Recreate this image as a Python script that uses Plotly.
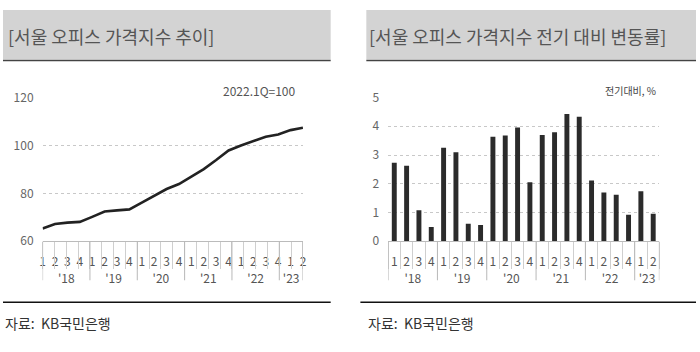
import plotly.graph_objects as go

years = ["'18", "'19", "'20", "'21", "'22", "'23"]
quarters_per_year = [4, 4, 4, 4, 4, 2]
quarters = ["1", "2", "3", "4"] * 5 + ["1", "2"]

price_index = [65.3, 67.2, 67.8, 68.1, 70.2, 72.4, 72.9, 73.3, 76.1, 79.0, 81.8, 83.9,
               86.9, 90.1, 93.9, 97.9, 100.0, 101.9, 103.6, 104.6, 106.4, 107.4]
qoq_change = [2.73, 2.63, 1.08, 0.50, 3.25, 3.10, 0.61, 0.57, 3.64, 3.68, 3.96, 2.05,
              3.70, 3.79, 4.43, 4.33, 2.11, 1.70, 1.62, 0.92, 1.74, 0.96]

title_left = "[서울 오피스 가격지수 추이]"
title_right = "[서울 오피스 가격지수 전기 대비 변동률]"
unit_left = "2022.1Q=100"
unit_right = "전기대비, %"
source = "자료:  KB국민은행"

# category keys (one per quarter) built from the lists above
cats = []
for y, n in zip(years, quarters_per_year):
    for q in range(1, n + 1):
        cats.append(f"{y}Q{q}")

# year boundaries / centres in category index units
bounds = [-0.5]
centres = []
for n in quarters_per_year:
    centres.append(bounds[-1] + n / 2)
    bounds.append(bounds[-1] + n)
qbounds = [i - 0.5 for i in range(len(cats) + 1)]

W, H = 700, 352
def px(x):
    return x / W
def py(y):
    return 1 - y / H

FONT = "Noto Sans CJK KR"
fig = go.Figure()

fig.add_trace(go.Scatter(x=cats, y=price_index, mode="lines",
                         line=dict(color="#222222", width=2.6), xaxis="x", yaxis="y",
                         showlegend=False))
fig.add_trace(go.Bar(x=cats, y=qoq_change, marker=dict(color="#2b2b2b", line_width=0),
                     xaxis="x2", yaxis="y2", showlegend=False))
# invisible carriers so the overlaid year axes are drawn
fig.add_trace(go.Scatter(x=centres, y=[60] * len(centres), mode="markers",
                         marker=dict(opacity=0), hoverinfo="skip", showlegend=False,
                         xaxis="x3", yaxis="y"))
fig.add_trace(go.Scatter(x=centres, y=[0] * len(centres), mode="markers",
                         marker=dict(opacity=0), hoverinfo="skip", showlegend=False,
                         xaxis="x4", yaxis="y2"))

qaxis = dict(type="category", showline=True, linecolor="#bbbbbb", linewidth=1,
             ticks="", tickangle=0, ticklabelstandoff=9,
             tickmode="array", tickvals=cats, ticktext=quarters,
             tickfont=dict(family=FONT, size=12, color="#555555"),
             showgrid=False, fixedrange=True, zeroline=False)
yraxis = dict(type="linear", range=[-0.5, len(cats) - 0.5], showline=False,
              ticks="outside", ticklen=0, tickcolor="rgba(0,0,0,0)",
              tickmode="array", tickvals=centres, ticktext=years,
              ticklabelstandoff=26,
              minor=dict(tickmode="array", tickvals=qbounds, ticks="outside", ticklen=27,
                         tickcolor="#cfcfcf", tickwidth=1, showgrid=False),
              tickfont=dict(family=FONT, size=12, color="#555555"),
              showgrid=False, zeroline=False, fixedrange=True, side="bottom")
ycommon = dict(showgrid=True, gridcolor="#c8c8c8", griddash="dot", gridwidth=1,
               zeroline=False, showline=False, ticks="",
               tickfont=dict(family=FONT, size=12, color="#666666"),
               ticklabelstandoff=8, fixedrange=True)

# year dividers drawn as longer gridded ticks on the overlay axes via shapes on the axis scale
fig.update_layout(
    width=W, height=H, margin=dict(l=0, r=0, t=0, b=0),
    paper_bgcolor="white", plot_bgcolor="white",
    bargap=0.6,
    xaxis=dict(domain=[px(40), px(303)], anchor="y", **qaxis),
    yaxis=dict(domain=[py(243), py(92)], range=[60, 120], dtick=20, anchor="x", **ycommon),
    xaxis2=dict(domain=[px(389), px(663)], anchor="y2", **qaxis),
    yaxis2=dict(domain=[py(243), py(92)], range=[0, 5], dtick=1, anchor="x2", **ycommon),
    xaxis3=dict(domain=[px(40), px(303)], anchor="y", overlaying="x", **yraxis),
    xaxis4=dict(domain=[px(389), px(663)], anchor="y2", overlaying="x2", **yraxis),
)

shapes = [
    dict(type="rect", xref="paper", yref="paper", x0=0, x1=px(331), y0=py(52), y1=1,
         fillcolor="#d3d3d3", line_width=0, layer="below"),
    dict(type="rect", xref="paper", yref="paper", x0=px(367), x1=1, y0=py(52), y1=1,
         fillcolor="#d3d3d3", line_width=0, layer="below"),
    dict(type="line", xref="paper", yref="paper", x0=0, x1=px(331), y0=py(53), y1=py(53),
         line=dict(color="#444444", width=1.5)),
    dict(type="line", xref="paper", yref="paper", x0=px(367), x1=1, y0=py(53), y1=py(53),
         line=dict(color="#444444", width=1.5)),
    dict(type="line", xref="paper", yref="paper", x0=0, x1=px(331), y0=py(307), y1=py(307),
         line=dict(color="#111111", width=1.5)),
    dict(type="line", xref="paper", yref="paper", x0=px(361), x1=1, y0=py(307), y1=py(307),
         line=dict(color="#111111", width=1.5)),
]
# year divider lines placed on the year axes' own scale
for xr in ("x3", "x4"):
    for b in bounds:
        shapes.append(dict(type="line", xref=xr, yref="paper", x0=b, x1=b,
                           y0=py(243), y1=py(284), line=dict(color="#b8b8b8", width=1)))
fig.update_layout(shapes=shapes)

ann = [
    dict(text=title_left, x=px(3), y=py(27), xanchor="left", yanchor="middle",
         font=dict(family=FONT, size=18, color="#555555")),
    dict(text=title_right, x=px(368), y=py(27), xanchor="left", yanchor="middle",
         font=dict(family=FONT, size=18, color="#555555")),
    dict(text=unit_left, x=px(298), y=py(85), xanchor="right", yanchor="middle",
         font=dict(family=FONT, size=12, color="#555555")),
    dict(text=unit_right, x=px(662), y=py(85), xanchor="right", yanchor="middle",
         font=dict(family=FONT, size=10, color="#444444")),
    dict(text=source, x=px(0), y=py(329), xanchor="left", yanchor="middle",
         font=dict(family=FONT, size=14, color="#333333")),
    dict(text=source, x=px(367), y=py(329), xanchor="left", yanchor="middle",
         font=dict(family=FONT, size=14, color="#333333")),
]
for a in ann:
    a.update(xref="paper", yref="paper", showarrow=False)
fig.update_layout(annotations=ann)

fig.write_html("out.html")
